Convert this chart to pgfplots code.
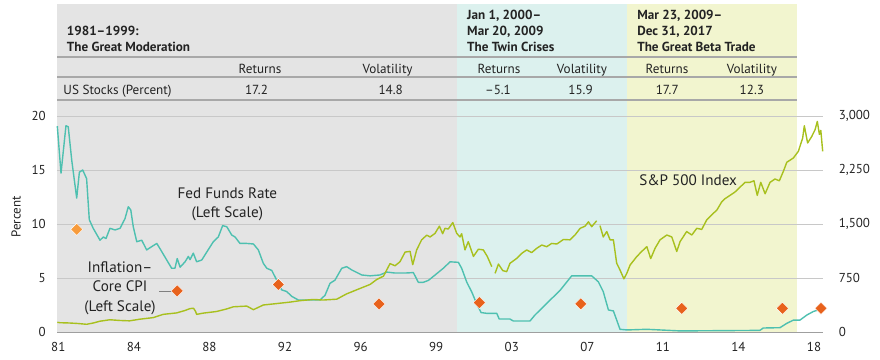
\documentclass[border=0pt]{standalone}
\usepackage{fontspec}
\setmainfont{PT Sans}
\usepackage{pgfplots}
\pgfplotsset{compat=1.18}
\definecolor{bgGray}{RGB}{228,228,228}
\definecolor{bgTeal}{RGB}{220,241,238}
\definecolor{bgYellow}{RGB}{242,245,207}
\definecolor{fedTeal}{RGB}{78,192,176}
\definecolor{spOlive}{RGB}{168,192,30}
\definecolor{cpiOrange}{RGB}{232,98,28}
\definecolor{cpiLight}{RGB}{247,155,60}
\definecolor{gridGray}{RGB}{200,200,200}
\definecolor{ruleGray}{RGB}{168,168,168}
\definecolor{txt}{RGB}{35,35,35}
\pgfplotsset{base/.style={scale only axis, width=766bp, height=329bp,
  at={(0,0)}, anchor=south west, xmin=1981, xmax=2018.11,
  axis line style={draw=none}, major tick length=0pt, clip=false,
  /pgf/number format/assume math mode=true,
  ticklabel style={font=\fontsize{13}{14}\selectfont, text=txt}}}
\newcommand{\tfont}{\fontsize{13.2}{14}\selectfont}
\newcommand{\afont}{\fontsize{15.2}{19.5}\selectfont}
\begin{document}
\begin{tikzpicture}
\path[use as bounding box] (-57.3bp,-28bp) rectangle (822.7bp,332bp);
% ---------- backgrounds and table ----------
\begin{axis}[base, ymin=0, ymax=30.463, xtick=\empty, ytick=\empty]
\fill[bgGray] (axis cs:1981,0) rectangle (axis cs:2000.365,30.37);
\fill[bgTeal] (axis cs:2000.365,0) rectangle (axis cs:2008.60,30.37);
\fill[bgYellow] (axis cs:2008.60,0) rectangle (axis cs:2016.84,30.37);
\draw[ruleGray, line width=1.2bp] (axis cs:1981,25.46) -- (axis cs:2016.84,25.46);
\draw[ruleGray, line width=1.2bp] (axis cs:1981,23.61) -- (axis cs:2016.84,23.61);
\draw[ruleGray, line width=1.4bp] (axis cs:1981,21.48) -- (axis cs:2016.84,21.48);
\begin{scope}[every node/.style={text=txt, inner sep=0pt}]
\node[anchor=base west, font=\tfont\bfseries] at (axis cs:1981.455,27.41) {1981–1999:};
\node[anchor=base west, font=\tfont\bfseries] at (axis cs:1981.455,25.93) {The Great Moderation};
\node[anchor=base west, font=\tfont\bfseries] at (axis cs:2000.85,28.98) {Jan 1, 2000–};
\node[anchor=base west, font=\tfont\bfseries] at (axis cs:2000.85,27.41) {Mar 20, 2009};
\node[anchor=base west, font=\tfont\bfseries] at (axis cs:2000.85,25.93) {The Twin Crises};
\node[anchor=base west, font=\tfont\bfseries] at (axis cs:2009.09,28.98) {Mar 23, 2009–};
\node[anchor=base west, font=\tfont\bfseries] at (axis cs:2009.09,27.41) {Dec 31, 2017};
\node[anchor=base west, font=\tfont\bfseries] at (axis cs:2009.09,25.93) {The Great Beta Trade};
\node[anchor=base, font=\tfont] at (axis cs:1990.82,23.89) {Returns};
\node[anchor=base, font=\tfont] at (axis cs:1997.00,23.89) {Volatility};
\node[anchor=base, font=\tfont] at (axis cs:2002.40,23.89) {Returns};
\node[anchor=base, font=\tfont] at (axis cs:2006.42,23.89) {Volatility};
\node[anchor=base, font=\tfont] at (axis cs:2010.54,23.89) {Returns};
\node[anchor=base, font=\tfont] at (axis cs:2014.65,23.89) {Volatility};
\node[anchor=base west, font=\tfont] at (axis cs:1981.29,21.99) {US Stocks (Percent)};
\node[anchor=base, font=\tfont] at (axis cs:1990.65,21.99) {17.2};
\node[anchor=base, font=\tfont] at (axis cs:1997.15,21.99) {14.8};
\node[anchor=base, font=\tfont] at (axis cs:2002.35,21.99) {–5.1};
\node[anchor=base, font=\tfont] at (axis cs:2006.35,21.99) {15.9};
\node[anchor=base, font=\tfont] at (axis cs:2010.55,21.99) {17.7};
\node[anchor=base, font=\tfont] at (axis cs:2014.65,21.99) {12.3};
\end{scope}
\end{axis}
% ---------- left scale: Fed funds and core CPI ----------
\begin{axis}[base, ymin=0, ymax=30.463,
  ytick={0,5,10,15,20}, yticklabels={0,5,10,15,20},
  ymajorgrids, grid style={gridGray, line width=0.9bp},
  yticklabel style={anchor=east, xshift=-8bp},
  xtick={1981.048,1984.710,1988.371,1992.033,1995.694,1999.355,2003.017,2006.678,2010.339,2014.001,2017.66},
  xticklabels={81,84,88,92,96,99,03,07,11,14,18},
  xticklabel style={anchor=north, yshift=-6.5bp}]
\draw[gray!75, line width=1bp] (axis cs:1981,0) -- (axis cs:2018.11,0);
\addplot[fedTeal, line width=1.4bp, line join=round] coordinates {
(1981.00,19.07) (1981.18,14.7) (1981.42,19.1) (1981.53,19.0) (1981.70,15.9) (1981.94,12.4)
(1982.07,14.8) (1982.23,15.0) (1982.42,14.2) (1982.55,10.4) (1982.74,9.6) (1983.07,8.5)
(1983.23,8.8) (1983.36,8.65) (1983.55,9.6) (1983.80,9.45) (1984.04,9.6) (1984.28,10.5)
(1984.44,11.6) (1984.56,11.3) (1984.68,9.75) (1984.85,8.36) (1985.09,8.5) (1985.33,7.6)
(1985.57,7.9) (1985.82,8.2) (1985.98,7.7) (1986.30,6.67) (1986.54,5.9) (1986.70,5.9)
(1986.81,6.8) (1986.95,6.0) (1987.19,6.5) (1987.35,7.0) (1987.43,6.7) (1987.59,7.3)
(1987.75,6.5) (1988.00,6.67) (1988.24,7.4) (1988.56,8.36) (1988.80,8.8) (1989.01,9.85)
(1989.21,9.75) (1989.45,8.98) (1989.61,8.8) (1989.85,8.2) (1990.18,8.2) (1990.50,8.15)
(1990.74,7.6) (1990.98,6.36) (1991.15,5.9) (1991.39,5.7) (1991.63,4.8) (1991.87,3.9)
(1992.11,3.75) (1992.36,3.3) (1992.68,2.96) (1993.73,2.96) (1993.97,3.4) (1994.21,4.5)
(1994.45,4.8) (1994.78,5.9) (1995.02,6.05) (1995.26,5.75) (1995.75,5.28) (1996.15,5.2)
(1996.63,5.28) (1996.96,5.55) (1997.36,5.46) (1997.85,5.46) (1998.25,5.5) (1998.49,4.6)
(1998.73,4.6) (1998.98,4.78) (1999.38,5.4) (1999.70,5.9) (2000.03,6.5) (2000.43,6.45)
(2000.59,5.9) (2000.84,4.6) (2001.08,3.7) (2001.32,2.6) (2001.53,1.8) (2001.80,1.73)
(2002.29,1.73) (2002.41,1.2) (2002.93,1.2) (2003.09,1.02) (2003.90,1.02) (2004.14,1.57)
(2004.71,2.65) (2005.36,3.86) (2005.92,5.2) (2006.89,5.2) (2007.21,4.65) (2007.45,3.73)
(2007.70,2.04) (2007.94,1.95) (2008.10,1.11) (2008.26,0.25) (2008.60,0.19) (2009.56,0.25)
(2011.17,0.1) (2015.04,0.15) (2015.20,0.37) (2016.01,0.4) (2016.34,0.8) (2016.66,1.1)
(2016.98,1.1) (2017.31,1.57) (2017.63,1.9) (2017.87,2.04) (2018.00,2.1)
};
\addplot[only marks, mark=square*, mark size=4.3bp, mark options={rotate=45, fill=cpiLight, draw=white, line width=0.4bp}] coordinates {(1981.94,9.5)};
\addplot[only marks, mark=square*, mark size=4.3bp, mark options={rotate=45, fill=cpiOrange, draw=white, line width=0.4bp}] coordinates {
(1986.81,3.8) (1991.71,4.4) (1996.59,2.6) (2001.45,2.72) (2006.36,2.6) (2011.25,2.19) (2016.13,2.19) (2018.00,2.19)
};
\draw[gray, line width=0.8bp] (axis cs:1985.94,3.8) -- (axis cs:1986.62,3.8);
\begin{scope}[every node/.style={text=txt, inner sep=0pt, align=center, font=\afont}]
\node at (axis cs:1989.24,11.85) {Fed Funds Rate\\(Left Scale)};
\node at (axis cs:1984.04,4.07) {Inflation–\\Core CPI\\(Left Scale)};
\node at (axis cs:2011.56,14.07) {S\&P 500 Index};
\node[rotate=90, font=\fontsize{13}{14}\selectfont] at (axis cs:1979.0,10.65) {Percent};
\end{scope}
\end{axis}
% ---------- right scale: S&P 500 ----------
\begin{axis}[base, ymin=0, ymax=4569.45, xtick=\empty,
  ytick={0,750,1500,2250,3000}, yticklabels={0,750,{1,500},{2,250},{3,000}},
  yticklabel pos=right, yticklabel style={anchor=west, xshift=12bp},
  unbounded coords=jump]
\addplot[spOlive, line width=1.4bp, line join=round] coordinates {
(1981.00,135) (1981.13,129) (1981.60,125) (1982.00,118) (1982.42,107) (1982.74,125)
(1983.07,150) (1983.55,170) (1984.04,160) (1984.50,155) (1985.00,178) (1985.65,200)
(1986.13,245) (1986.78,265) (1987.20,300) (1987.43,325) (1987.60,330) (1987.70,285)
(1987.75,245) (1988.07,262) (1988.72,285) (1989.20,320) (1989.53,350) (1990.18,360)
(1990.50,310) (1990.98,375) (1991.63,395) (1992.27,415) (1992.76,435) (1993.40,452)
(1993.89,444) (1994.54,456) (1995.02,530) (1995.67,605) (1996.15,660) (1996.48,730)
(1996.80,775) (1997.12,950) (1997.36,920) (1997.60,975) (1997.85,1110) (1998.09,1120)
(1998.22,935) (1998.41,1140) (1998.65,1280) (1998.90,1345) (1999.06,1320) (1999.30,1370)
(1999.51,1470) (1999.67,1365) (1999.78,1440) (1999.94,1430) (2000.16,1520) (2000.35,1370)
(2000.51,1320) (2000.59,1365) (2000.75,1140) (2000.91,1255) (2001.16,1050) (2001.40,1150)
(2001.64,1140) (2001.83,1050) (2002.05,907) (2002.13,nan) (2002.21,815) (2002.37,943)
(2002.58,853) (2002.77,838) (2002.93,954) (2003.26,1023) (2003.50,1092) (2003.74,1140)
(2003.98,1103) (2004.23,1163) (2004.47,1208) (2004.71,1185) (2004.95,1230) (2005.20,1222)
(2005.52,1285) (2005.84,1280) (2006.08,1347) (2006.33,1440) (2006.57,1470) (2006.73,1530)
(2006.89,1463) (2007.13,1545) (2007.21,nan) (2007.29,1478) (2007.45,1320) (2007.62,1395)
(2007.78,1280) (2007.94,1280) (2008.10,955) (2008.26,862) (2008.45,738) (2008.59,815)
(2008.75,930) (2009.07,1047) (2009.31,1118) (2009.56,1185) (2009.75,1020) (2009.96,1163)
(2010.20,1280) (2010.53,1347) (2010.77,1320) (2011.01,1118) (2011.17,1255) (2011.49,1395)
(2011.74,1347) (2011.98,1440) (2012.22,1425) (2012.46,1556) (2012.78,1648) (2012.95,1692)
(2013.19,1808) (2013.35,1852) (2013.59,1898) (2013.83,1944) (2014.08,2013) (2014.32,2079)
(2014.56,2079) (2014.75,2100) (2014.91,1898) (2015.08,2079) (2015.29,1920) (2015.53,2079)
(2015.77,2125) (2015.98,2100) (2016.18,2235) (2016.34,2357) (2016.66,2417) (2016.90,2509)
(2017.11,2694) (2017.19,2865) (2017.35,2625) (2017.55,2716) (2017.71,2809) (2017.82,2925)
(2017.92,2745) (2017.99,2800) (2018.08,2509)
};
\end{axis}
\end{tikzpicture}
\end{document}
